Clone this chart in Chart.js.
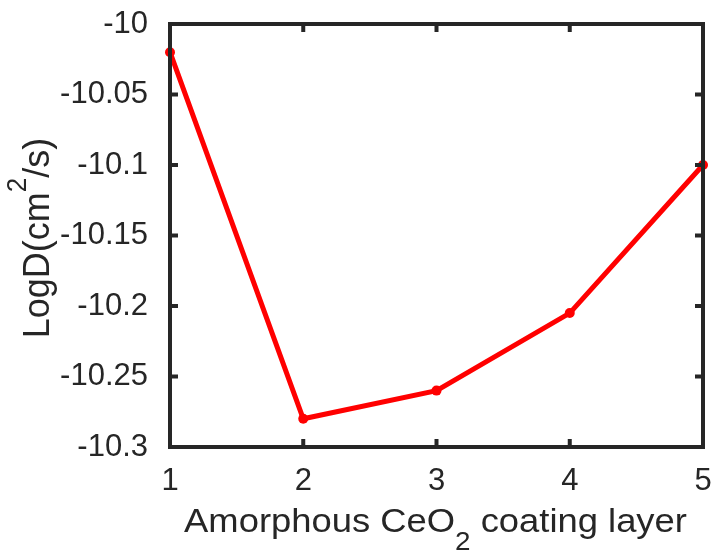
<!DOCTYPE html>
<html>
<head>
<meta charset="utf-8">
<script src="https://cdn.jsdelivr.net/npm/chart.js@4/dist/chart.umd.min.js"></script>
<style>
  html, body { margin: 0; padding: 0; background: #fff; }
  #wrap { width: 712px; height: 552px; }
</style>
</head>
<body>
<div id="wrap"><canvas id="myChart" width="712" height="552"></canvas></div>
<script>
// coating layers and LogD values
var layers = [1, 2, 3, 4, 5];
var logD = [-10.02, -10.28, -10.26, -10.205, -10.1];
var yTicks = [-10.3, -10.25, -10.2, -10.15, -10.1, -10.05, -10];

var fontFamily = "'Liberation Sans', Arial, sans-serif";
var axisColor = '#262626';

var points = [];
for (var i = 0; i < layers.length; i++) {
  points.push({ x: layers[i], y: logD[i] });
}

// draws a string made of pieces, some raised or lowered (and smaller)
function drawPieces(ctx, pieces, size, x, y) {
  var total = 0;
  pieces.forEach(function (p) {
    ctx.font = (p.size || size) + 'px ' + fontFamily;
    total += ctx.measureText(p.t).width;
  });
  var cx = x - total / 2;
  ctx.textAlign = 'left';
  ctx.textBaseline = 'alphabetic';
  pieces.forEach(function (p) {
    ctx.font = (p.size || size) + 'px ' + fontFamily;
    ctx.fillText(p.t, cx, y + (p.dy || 0));
    cx += ctx.measureText(p.t).width;
  });
}

var framePlugin = {
  id: 'frame',
  afterDraw: function (chart) {
    var ctx = chart.ctx;
    var a = chart.chartArea;
    var xs = chart.scales.x, ys = chart.scales.y;
    ctx.save();
    ctx.strokeStyle = axisColor;
    ctx.lineWidth = 4;
    ctx.beginPath();
    ctx.rect(a.left, a.top, a.right - a.left, a.bottom - a.top);
    ctx.stroke();
    // inward ticks on all four sides
    var len = 8;
    ctx.beginPath();
    layers.forEach(function (v) {
      var px = xs.getPixelForValue(v);
      ctx.moveTo(px, a.bottom); ctx.lineTo(px, a.bottom - len);
      ctx.moveTo(px, a.top); ctx.lineTo(px, a.top + len);
    });
    yTicks.forEach(function (v) {
      var py = ys.getPixelForValue(v);
      ctx.moveTo(a.left, py); ctx.lineTo(a.left + len, py);
      ctx.moveTo(a.right, py); ctx.lineTo(a.right - len, py);
    });
    ctx.stroke();
    ctx.restore();

    // axis titles (the figure is slightly stretched sideways)
    ctx.save();
    ctx.fillStyle = axisColor;
    ctx.translate(435.5, 532);
    ctx.scale(1.07, 1);
    drawPieces(ctx, [
      { t: 'Amorphous CeO' }, { t: '2', dy: 18, size: 26 }, { t: ' coating layer' }
    ], 34, 0, 0);
    ctx.restore();

    ctx.save();
    ctx.fillStyle = axisColor;
    ctx.translate(49, 238);
    ctx.scale(1.05, 1);
    ctx.rotate(-Math.PI / 2);
    drawPieces(ctx, [
      { t: 'LogD(cm' }, { t: '2', dy: -22, size: 26 }, { t: '/s)' }
    ], 36, 0, 0);
    ctx.restore();
  }
};

var config = {
  type: 'line',
  data: {
    datasets: [{
      data: points,
      borderColor: '#ff0000',
      backgroundColor: '#ff0000',
      borderWidth: 5,
      pointRadius: 5,
      pointBorderWidth: 0,
      pointHoverRadius: 5,
      tension: 0
    }]
  },
  options: {
    responsive: false,
    animation: false,
    clip: false,
    layout: { padding: { top: 24, right: 9, left: 0, bottom: 0 } },
    plugins: { legend: { display: false }, tooltip: { enabled: false } },
    scales: {
      x: {
        type: 'linear',
        min: 1, max: 5,
        afterBuildTicks: function (s) { s.ticks = layers.map(function (v) { return { value: v }; }); },
        afterFit: function (s) { s.height = 105; s.paddingLeft = 0; s.paddingRight = 0; },
        grid: { display: false },
        border: { display: false },
        ticks: { padding: 8, color: axisColor, font: { family: fontFamily, size: 31 } }
      },
      y: {
        min: -10.3, max: -10,
        afterBuildTicks: function (s) { s.ticks = yTicks.map(function (v) { return { value: v }; }); },
        afterFit: function (s) { s.width = 170; s.paddingTop = 0; s.paddingBottom = 0; },
        grid: { display: false },
        border: { display: false },
        ticks: {
          padding: 14, color: axisColor, font: { family: fontFamily, size: 31 },
          callback: function (v) { return String(parseFloat(v.toFixed(3))); }
        }
      }
    }
  },
  plugins: [framePlugin]
};

var myChart = new Chart(document.getElementById('myChart'), config);
</script>
</body>
</html>
